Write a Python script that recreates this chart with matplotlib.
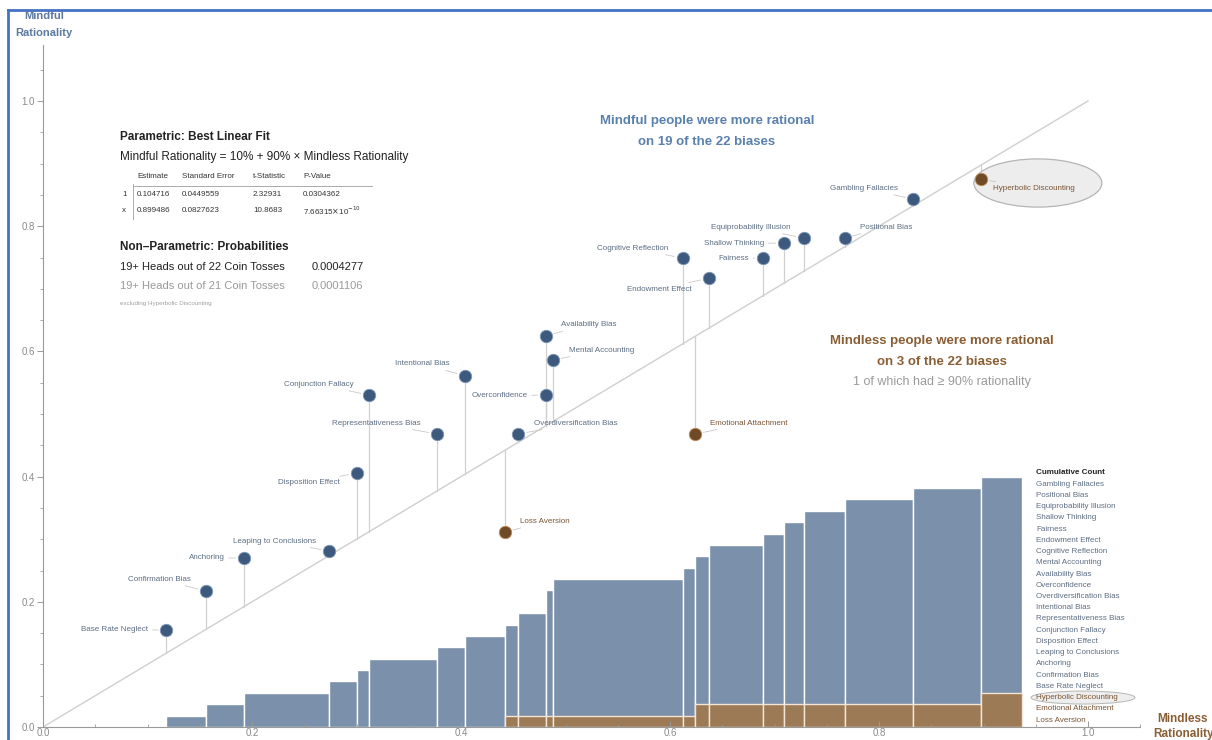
import numpy as np
import matplotlib.pyplot as plt
from matplotlib.patches import Ellipse
from matplotlib.lines import Line2D

plt.rcParams['font.family'] = ['Liberation Sans', 'DejaVu Sans']

W, H = 1212, 740

# biases where mindful people did better (x = mindless rationality, y = mindful rationality)
mindful_names = ['Base Rate Neglect', 'Confirmation Bias', 'Anchoring', 'Leaping to Conclusions',
                 'Disposition Effect', 'Conjunction Fallacy', 'Representativeness Bias',
                 'Intentional Bias', 'Overdiversification Bias', 'Overconfidence',
                 'Availability Bias', 'Mental Accounting', 'Cognitive Reflection',
                 'Endowment Effect', 'Fairness', 'Shallow Thinking', 'Equiprobability Illusion',
                 'Positional Bias', 'Gambling Fallacies']
mindful_x = [0.118, 0.156, 0.192, 0.274, 0.300, 0.312, 0.377, 0.404, 0.455, 0.481,
             0.481, 0.488, 0.612, 0.637, 0.689, 0.709, 0.728, 0.767, 0.833]
mindful_y = [0.155, 0.217, 0.270, 0.281, 0.406, 0.530, 0.468, 0.561, 0.468, 0.530,
             0.625, 0.586, 0.749, 0.717, 0.749, 0.773, 0.781, 0.781, 0.843]

# biases where mindless people did better
mindless_names = ['Loss Aversion', 'Emotional Attachment', 'Hyperbolic Discounting']
mindless_x = [0.442, 0.624, 0.898]
mindless_y = [0.311, 0.468, 0.875]

bar_end = 0.937      # right edge of last cumulative bar
cum_top = 0.4        # height of the full cumulative count

fit_header = ['Estimate', 'Standard Error', 't-Statistic', 'P-Value']
fit_rows = [['1', '0.104716', '0.0449559', '2.32931', '0.0304362'],
            ['x', '0.899486', '0.0827623', '10.8683', r'7.66315$\times$10$^{-10}$']]
coin_lines = [('19+ Heads out of 22 Coin Tosses', '0.0004277'),
              ('19+ Heads out of 21 Coin Tosses', '0.0001106')]

# label offsets in pixels (dx, dy), negative dx = label on the left
label_offsets = {
    'Base Rate Neglect': (-18, 0), 'Confirmation Bias': (-15, 12), 'Anchoring': (-19, 0),
    'Leaping to Conclusions': (-13, 10), 'Disposition Effect': (-17, -10),
    'Conjunction Fallacy': (-15, 11), 'Representativeness Bias': (-16, 11),
    'Intentional Bias': (-16, 12), 'Overconfidence': (-18, 0), 'Availability Bias': (15, 11),
    'Mental Accounting': (16, 10), 'Overdiversification Bias': (16, 11),
    'Loss Aversion': (15, 11), 'Emotional Attachment': (15, 11),
    'Cognitive Reflection': (-14, 10), 'Endowment Effect': (-17, -11), 'Fairness': (-14, 0),
    'Shallow Thinking': (-20, 0), 'Equiprobability Illusion': (-13, 11),
    'Positional Bias': (15, 11), 'Gambling Fallacies': (-15, 11),
    'Hyperbolic Discounting': (12, -9),
}

blue_pt = '#3d5a7e'
brown_pt = '#6e4a27'
bar_blue = '#7b90aa'
bar_brown = '#9c7a55'
label_col = '#5d6e84'

fig = plt.figure(figsize=(W / 100, H / 100), dpi=100)


def fx(px):
    return px / W


def fy(py):
    return 1 - py / H


x0, y0, xs, ys = 43, 727, 1045, 626
ax = fig.add_axes([fx(x0), fy(y0), 1.05 * xs / W, 1.09 * ys / H])
ax.set_xlim(0, 1.05)
ax.set_ylim(0, 1.09)

# cumulative histogram of all biases
all_x = np.array(mindful_x + mindless_x)
order = np.argsort(all_x, kind='stable')
sx = all_x[order]
is_mindless = np.array([False] * len(mindful_x) + [True] * len(mindless_x))[order]
edges = np.append(sx, bar_end)
unit = cum_top / len(sx)
brown_count = np.cumsum(is_mindless)
for i in range(len(sx)):
    w = edges[i + 1] - edges[i]
    if w <= 0:
        continue
    ax.bar(edges[i], (i + 1) * unit, width=w, align='edge', color=bar_blue,
           edgecolor='white', linewidth=1.0, zorder=1)
    if brown_count[i] > 0:
        ax.bar(edges[i], brown_count[i] * unit, width=w, align='edge', color=bar_brown,
               edgecolor='#f3e6d6', linewidth=1.0, zorder=1.5)

# identity line
ax.plot([0, 1], [0, 1], color='#cfcfcf', lw=1.0, zorder=2)

# residual lines
for xv, yv in zip(mindful_x + mindless_x, mindful_y + mindless_y):
    ax.plot([xv, xv], [yv, xv], color='#d0d0d0', lw=0.9, zorder=2)

# ellipse behind hyperbolic discounting
ax.add_patch(Ellipse((0.952, 0.869), 0.1225, 0.077, facecolor='#ededed',
                     edgecolor='#b5b5b5', lw=0.9, zorder=2.5))

ax.scatter(mindful_x, mindful_y, s=80, color=blue_pt, edgecolor='#7f97b5', linewidth=0.6, zorder=4)
ax.scatter(mindless_x, mindless_y, s=80, color=brown_pt, edgecolor='#c08a55', linewidth=0.6, zorder=4)

for names, xs_, ys_, col in [(mindful_names, mindful_x, mindful_y, label_col),
                             (mindless_names, mindless_x, mindless_y, '#7a5533')]:
    for n, xv, yv in zip(names, xs_, ys_):
        dx, dy = label_offsets[n]
        ax.annotate(n, (xv, yv), xytext=(dx, dy), textcoords='offset pixels',
                    ha='right' if dx < 0 else 'left', va='center', fontsize=5.8, color=col,
                    arrowprops=dict(arrowstyle='-', color='#c8c8c8', lw=0.6,
                                    shrinkA=1, shrinkB=6), zorder=5)

# axes styling
for s in ['top', 'right']:
    ax.spines[s].set_visible(False)
for s in ['left', 'bottom']:
    ax.spines[s].set_color('#9a9a9a')
    ax.spines[s].set_linewidth(0.8)
ax.set_xticks(np.arange(0, 1.01, 0.2))
ax.set_yticks(np.arange(0, 1.01, 0.2))
ax.set_xticks(np.arange(0, 1.051, 0.05), minor=True)
ax.set_yticks(np.arange(0, 1.09, 0.05), minor=True)
ax.set_xticklabels(['%.1f' % v for v in np.arange(0, 1.01, 0.2)])
ax.set_yticklabels(['%.1f' % v for v in np.arange(0, 1.01, 0.2)])
ax.tick_params(which='both', colors='#9a9a9a', labelsize=7, labelcolor='#8a8a8a')
ax.tick_params(axis='y', which='major', length=4, width=0.7, pad=2)
ax.tick_params(axis='y', which='minor', length=2, width=0.6)
ax.tick_params(axis='x', which='major', direction='in', length=4, width=0.7, pad=1)
ax.tick_params(axis='x', which='minor', direction='in', length=2, width=0.6)

# axis titles
fig.text(fx(44), fy(16), 'Mindful', ha='center', va='center', fontsize=8,
         fontweight='bold', color='#5a78a0')
fig.text(fx(44), fy(33), 'Rationality', ha='center', va='center', fontsize=8,
         fontweight='bold', color='#5a78a0')
fig.text(fx(1183), fy(719), 'Mindless', ha='center', va='center', fontsize=8.5,
         fontweight='bold', color='#8a5e34')
fig.text(fx(1183), fy(734), 'Rationality', ha='center', va='center', fontsize=8.5,
         fontweight='bold', color='#8a5e34')

# stats box
fig.text(fx(120), fy(137), 'Parametric: Best Linear Fit', fontsize=8.5, fontweight='bold',
         color='#222222', va='center')
fig.text(fx(120), fy(157), 'Mindful Rationality = 10% + 90% \u00d7 Mindless Rationality',
         fontsize=8.5, color='#222222', va='center')
col_px = [137, 182, 253, 303]
for c, h in zip(col_px, fit_header):
    fig.text(fx(c), fy(176), h, fontsize=5.8, color='#333333', va='center')
for r, row in zip([194, 211], fit_rows):
    fig.text(fx(122), fy(r), row[0], fontsize=5.8, color='#333333', va='center')
    for c, v in zip(col_px, row[1:]):
        fig.text(fx(c), fy(r), v, fontsize=5.8, color='#333333', va='center')
fig.add_artist(Line2D([fx(133), fx(372)], [fy(186), fy(186)], color='#aaaaaa', lw=0.7))
fig.add_artist(Line2D([fx(133), fx(133)], [fy(184), fy(219)], color='#aaaaaa', lw=0.7))

fig.text(fx(120), fy(247), 'Non\u2013Parametric: Probabilities', fontsize=8.5,
         fontweight='bold', color='#222222', va='center')
for (t, p), r, col in zip(coin_lines, [267, 286], ['#222222', '#9a9a9a']):
    fig.text(fx(120), fy(r), t, fontsize=8, color=col, va='center')
    fig.text(fx(312), fy(r), p, fontsize=8, color=col, va='center')
fig.text(fx(120), fy(304), 'excluding Hyperbolic Discounting', fontsize=4.5,
         color='#a0a0a0', va='center')

# headline annotations
fig.text(fx(707), fy(121), 'Mindful people were more rational', ha='center', va='center',
         fontsize=9.5, fontweight='bold', color='#5a80ad')
fig.text(fx(707), fy(142), 'on 19 of the 22 biases', ha='center', va='center',
         fontsize=9.5, fontweight='bold', color='#5a80ad')
fig.text(fx(942), fy(341), 'Mindless people were more rational', ha='center', va='center',
         fontsize=9.5, fontweight='bold', color='#8a5e34')
fig.text(fx(942), fy(362), 'on 3 of the 22 biases', ha='center', va='center',
         fontsize=9.5, fontweight='bold', color='#8a5e34')
fig.text(fx(942), fy(382), '1 of which had \u2265 90% rationality', ha='center', va='center',
         fontsize=9, color='#9a9a9a')

# cumulative count legend (mindful descending, then mindless descending)
leg_mindful = [mindful_names[i] for i in np.argsort(mindful_x, kind='stable')[::-1]]
leg_mindless = [mindless_names[i] for i in np.argsort(mindless_x)[::-1]]
fig.text(fx(1036), fy(473), 'Cumulative Count', fontsize=5.8, fontweight='bold',
         color='#222222', va='center')
step = (720 - 473) / (len(leg_mindful) + len(leg_mindless))
for k, n in enumerate(leg_mindful + leg_mindless):
    col = label_col if n in mindful_names else '#7a5533'
    fig.text(fx(1036), fy(473 + step * (k + 1)), n, fontsize=5.8, color=col, va='center')
    if n == 'Hyperbolic Discounting':
        fig.add_artist(Ellipse((fx(1083), fy(473 + step * (k + 1))), 104 / W, 13 / H,
                               facecolor='#eeeeee', edgecolor='#b5b5b5', lw=0.7,
                               transform=fig.transFigure, zorder=0.5))

# blue frame
fig.add_artist(Line2D([fx(8), fx(8)], [0, fy(10)], color='#4472c4', lw=2))
fig.add_artist(Line2D([fx(8), 1], [fy(10), fy(10)], color='#4472c4', lw=2))

fig.savefig('out.png', dpi=100)
